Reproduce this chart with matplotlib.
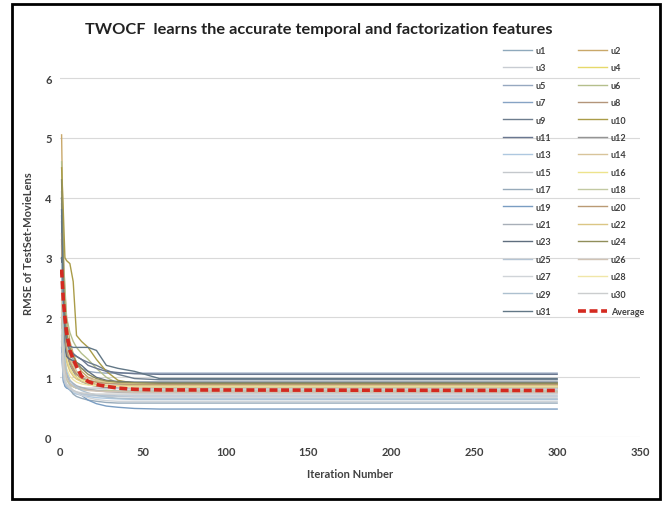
import matplotlib
matplotlib.use("Agg")
import matplotlib.pyplot as plt
from matplotlib.patches import Rectangle

plt.rcParams['font.family'] = ['Lato', 'DejaVu Sans']

iters = [1, 2, 3, 4, 6, 8, 10, 13, 17, 22, 28, 35, 45, 60, 300]

users = ['u%d' % i for i in range(1, 32)]

rmse = [
    [3.6, 2.4, 1.9, 1.6, 1.35, 1.2, 1.1, 1.0, 0.95, 0.92, 0.9, 0.89, 0.88, 0.87, 0.87],
    [5.05, 3.2, 2.4, 2.0, 1.6, 1.4, 1.25, 1.1, 1.0, 0.95, 0.93, 0.92, 0.91, 0.9, 0.9],
    [2.2, 1.5, 1.2, 1.0, 0.85, 0.78, 0.74, 0.72, 0.7, 0.69, 0.68, 0.68, 0.67, 0.67, 0.67],
    [3.0, 2.2, 1.8, 1.5, 1.3, 1.15, 1.05, 0.98, 0.94, 0.92, 0.91, 0.9, 0.9, 0.9, 0.9],
    [4.1, 2.6, 1.9, 1.6, 1.4, 1.3, 1.22, 1.15, 1.1, 1.08, 1.07, 1.07, 1.07, 1.07, 1.07],
    [4.6, 3.0, 2.5, 2.0, 1.75, 1.6, 1.5, 1.4, 1.3, 1.15, 1.0, 0.9, 0.85, 0.83, 0.83],
    [3.9, 1.9, 1.3, 1.05, 0.9, 0.85, 0.82, 0.8, 0.79, 0.78, 0.78, 0.77, 0.77, 0.77, 0.77],
    [3.3, 2.0, 1.6, 1.4, 1.25, 1.15, 1.05, 0.98, 0.92, 0.88, 0.86, 0.85, 0.84, 0.84, 0.84],
    [4.0, 2.5, 1.9, 1.6, 1.45, 1.4, 1.35, 1.3, 1.25, 1.2, 1.12, 1.05, 0.98, 0.96, 0.96],
    [4.5, 3.8, 3.0, 2.95, 2.9, 2.6, 1.7, 1.6, 1.5, 1.3, 1.1, 0.95, 0.9, 0.88, 0.88],
    [3.7, 2.0, 1.6, 1.45, 1.4, 1.38, 1.35, 1.3, 1.2, 1.15, 1.1, 1.08, 1.06, 1.05, 1.05],
    [2.8, 1.9, 1.6, 1.4, 1.2, 1.1, 1.0, 0.93, 0.88, 0.85, 0.83, 0.82, 0.81, 0.81, 0.81],
    [2.5, 1.2, 0.95, 0.85, 0.78, 0.74, 0.72, 0.7, 0.68, 0.66, 0.65, 0.64, 0.63, 0.63, 0.63],
    [3.2, 2.1, 1.7, 1.5, 1.3, 1.2, 1.1, 1.03, 0.98, 0.95, 0.93, 0.92, 0.91, 0.91, 0.91],
    [1.9, 0.92, 0.9, 0.88, 0.86, 0.85, 0.84, 0.83, 0.82, 0.82, 0.81, 0.81, 0.81, 0.81, 0.81],
    [2.6, 1.8, 1.5, 1.3, 1.15, 1.05, 1.0, 0.96, 0.93, 0.92, 0.91, 0.9, 0.9, 0.9, 0.9],
    [1.6, 1.0, 0.9, 0.85, 0.8, 0.72, 0.68, 0.65, 0.62, 0.6, 0.58, 0.57, 0.57, 0.57, 0.57],
    [2.0, 1.3, 1.05, 0.95, 0.88, 0.84, 0.82, 0.8, 0.79, 0.78, 0.78, 0.77, 0.77, 0.77, 0.77],
    [1.5, 0.95, 0.85, 0.82, 0.8, 0.78, 0.75, 0.7, 0.62, 0.56, 0.52, 0.5, 0.48, 0.47, 0.47],
    [3.4, 2.2, 1.7, 1.45, 1.25, 1.12, 1.05, 0.99, 0.95, 0.92, 0.9, 0.89, 0.88, 0.88, 0.88],
    [2.3, 1.5, 1.2, 1.05, 0.95, 0.9, 0.86, 0.83, 0.8, 0.78, 0.76, 0.75, 0.74, 0.74, 0.74],
    [2.7, 1.8, 1.45, 1.25, 1.1, 1.02, 0.97, 0.93, 0.9, 0.88, 0.87, 0.86, 0.86, 0.86, 0.86],
    [3.0, 1.8, 1.5, 1.35, 1.3, 1.28, 1.25, 1.2, 1.1, 1.0, 0.95, 0.93, 0.92, 0.92, 0.92],
    [4.3, 2.8, 2.1, 1.75, 1.5, 1.35, 1.25, 1.15, 1.05, 0.98, 0.94, 0.92, 0.91, 0.9, 0.9],
    [1.4, 1.0, 0.9, 0.85, 0.8, 0.77, 0.75, 0.73, 0.71, 0.7, 0.7, 0.69, 0.69, 0.69, 0.69],
    [2.1, 1.4, 1.15, 1.0, 0.9, 0.85, 0.82, 0.8, 0.78, 0.77, 0.76, 0.76, 0.75, 0.75, 0.75],
    [1.8, 1.2, 1.0, 0.9, 0.82, 0.78, 0.74, 0.7, 0.66, 0.63, 0.61, 0.6, 0.6, 0.6, 0.6],
    [2.4, 1.6, 1.3, 1.15, 1.02, 0.96, 0.92, 0.89, 0.87, 0.86, 0.85, 0.85, 0.84, 0.84, 0.84],
    [2.9, 1.7, 1.3, 1.1, 0.95, 0.88, 0.83, 0.78, 0.74, 0.7, 0.67, 0.65, 0.64, 0.64, 0.64],
    [1.7, 1.1, 0.95, 0.88, 0.82, 0.78, 0.76, 0.74, 0.73, 0.72, 0.72, 0.72, 0.72, 0.72, 0.72],
    [3.8, 2.3, 1.8, 1.6, 1.52, 1.5, 1.5, 1.5, 1.5, 1.45, 1.2, 1.15, 1.1, 0.98, 0.98],
]

average = [2.8, 2.3, 2.0, 1.75, 1.45, 1.3, 1.18, 1.02, 0.93, 0.88, 0.85, 0.82, 0.8, 0.79, 0.78]

colors = [
    '#8fa9bc', '#c9a86a', '#c8ccd2', '#e6d96a', '#96a8c0', '#b5bf8c',
    '#86a3c4', '#b3957a', '#6d7d8e', '#aa9c48', '#6a7790', '#949494',
    '#aec8e0', '#d8c49a', '#c4c8cc', '#ede38c', '#97aaba', '#c2c9a2',
    '#7a9dc2', '#ba9a74', '#a8afb8', '#dbc684', '#5f6e7e', '#908e5a',
    '#b5c4d3', '#d0c3b5', '#d0d4d8', '#f0e6a8', '#adc0cf', '#cbcdce',
    '#627786',
]

fig = plt.figure(figsize=(6.66, 5.06), dpi=100)
ax = fig.add_axes([0.09, 0.134, 0.871, 0.769])

handles = []
for name, ys, c in zip(users, rmse, colors):
    h, = ax.plot(iters, ys, color=c, lw=1.0, label=name)
    handles.append(h)
avg_h, = ax.plot(iters, average, color='#d42a20', lw=2.6, ls=(0, (2.2, 1.0)),
                 label='Average', zorder=5)

ax.set_xlim(0, 350)
ax.set_ylim(0, 6.5)
ax.set_xticks(range(0, 351, 50))
ax.set_yticks(range(0, 7))
ax.grid(axis='y', color='#d9d9d9', lw=0.8)
ax.set_axisbelow(True)
for s in ax.spines.values():
    s.set_visible(False)
ax.tick_params(length=0, labelsize=8, labelcolor='#404040', pad=6)
for lab in ax.get_xticklabels() + ax.get_yticklabels():
    lab.set_fontweight('bold')

ax.set_xlabel('Iteration Number', fontsize=8, fontweight='bold', color='#404040', labelpad=8)
ax.set_ylabel('RMSE of TestSet-MovieLens', fontsize=8, fontweight='bold', color='#404040', labelpad=8)

fig.text(0.478, 0.941, 'TWOCF  learns the accurate temporal and factorization features',
         ha='center', va='center', fontsize=11.8, fontweight='bold', color='#222222')

# legend filled row by row: u1 u2 / u3 u4 / ... / u31 Average
col1 = handles[0::2]
col2 = handles[1::2] + [avg_h]
leg = fig.legend(col1 + col2, [h.get_label() for h in col1 + col2], ncol=2,
                 loc='upper left', bbox_to_anchor=(503 / 666, 1 - 47 / 506),
                 frameon=False, fontsize=6.5, handlelength=3.2, handletextpad=0.4,
                 columnspacing=3.0, labelspacing=0.93, borderaxespad=0, borderpad=0)
for t in leg.get_texts():
    t.set_fontweight('bold')
    t.set_color('#404040')

fig.patches.append(Rectangle((12 / 666, 1 - 500 / 506), 648 / 666, 495 / 506,
                             transform=fig.transFigure, fill=False, ec='black', lw=2))

fig.savefig('out.png', dpi=100)
